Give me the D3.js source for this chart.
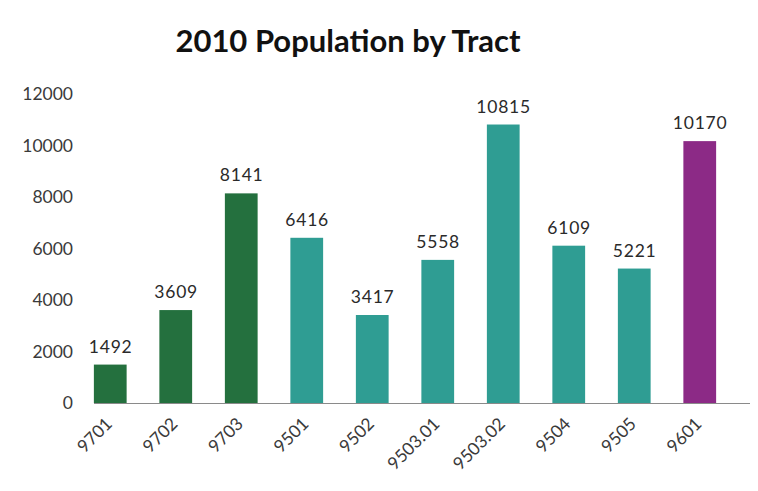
<!DOCTYPE html>
<html>
<head>
<meta charset="utf-8">
<script src="https://cdn.jsdelivr.net/npm/d3@7"></script>
<style>
  html, body { margin: 0; padding: 0; background: #ffffff; }
  svg { display: block; }
</style>
</head>
<body>
<svg id="chart" width="758" height="491"></svg>
<script>
// Census tracts and their 2010 population
const tracts = ["9701", "9702", "9703", "9501", "9502", "9503.01", "9503.02", "9504", "9505", "9601"];
const population = [1492, 3609, 8141, 6416, 3417, 5558, 10815, 6109, 5221, 10170];
const groups = ["a", "a", "a", "b", "b", "b", "b", "b", "b", "c"];
const yTicks = [0, 2000, 4000, 6000, 8000, 10000, 12000];

const groupColor = { a: "#24703e", b: "#2f9d93", c: "#8c2a86" };

const svg = d3.select("#chart");
const data = tracts.map((t, i) => ({ tract: t, value: population[i], group: groups[i] }));

const x = d3.scaleBand()
  .domain(tracts)
  .range([77.5, 732.5])
  .paddingInner(0.5)
  .paddingOuter(0.25);

const y = d3.scaleLinear()
  .domain([0, 12000])
  .range([403, 94]);

// Title
svg.append("text")
  .attr("x", 348)
  .attr("y", 52)
  .attr("text-anchor", "middle")
  .attr("font-family", "Lato, 'Open Sans', sans-serif")
  .attr("font-weight", "bold")
  .attr("font-size", 31)
  .attr("fill", "#111")
  .text("2010 Population by Tract");

// Y axis labels (no axis line)
const yAxis = d3.axisLeft(y).tickValues(yTicks).tickSize(0).tickPadding(0).tickFormat(d3.format("d"));
const yg = svg.append("g").attr("transform", "translate(73,0)").call(yAxis);
yg.select(".domain").remove();
yg.selectAll("text")
  .attr("font-family", "Lato, sans-serif")
  .attr("font-size", 17.5)
  .attr("fill", "#3a3a3a");

// Bars
svg.append("g").selectAll("rect")
  .data(data)
  .join("rect")
  .attr("x", d => x(d.tract))
  .attr("width", x.bandwidth())
  .attr("y", d => y(d.value))
  .attr("height", d => y(0) - y(d.value))
  .attr("fill", d => groupColor[d.group]);

// Value labels above bars
svg.append("g").selectAll("text")
  .data(data)
  .join("text")
  .attr("x", d => x(d.tract) + x.bandwidth() / 2 + 0.4)
  .attr("y", d => y(d.value) - 12)
  .attr("text-anchor", "middle")
  .attr("font-family", "Lato, sans-serif")
  .attr("font-size", 17.5)
  .attr("letter-spacing", 0.8)
  .attr("fill", "#2a2a2a")
  .text(d => d.value);

// X axis baseline and rotated category labels
const xAxis = d3.axisBottom(x).tickSize(0).tickPadding(0);
const xg = svg.append("g").attr("transform", `translate(0,${y(0)})`).call(xAxis);
xg.select(".domain")
  .attr("d", "M94,0.5H750")
  .attr("stroke", "#8a8a8a")
  .attr("stroke-width", 1.2);
xg.selectAll("text")
  .attr("font-family", "Lato, sans-serif")
  .attr("font-size", 17.5)
  .attr("fill", "#3a3a3a")
  .attr("text-anchor", "end")
  .attr("dy", 0)
  .attr("transform", "translate(3,22) rotate(-45)");
</script>
</body>
</html>
